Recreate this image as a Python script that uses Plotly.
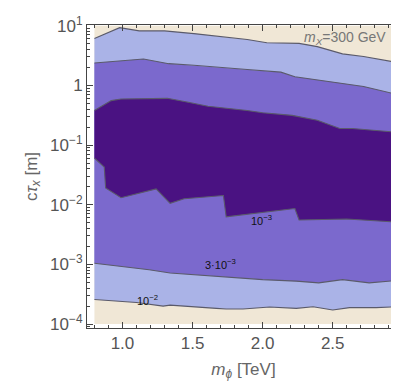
import numpy as np
import plotly.graph_objects as go

# data extent of the scan
m_range = [0.8, 2.95]          # m_phi [TeV]
ctau_range = [1e-4, 10.0]      # c tau [m]

# contour 1e-2 (upper branch)
up_1e2_m = [0.80, 0.98, 1.12, 1.30, 1.51, 1.80, 1.89, 2.03, 2.26, 2.39, 2.57, 2.72, 2.95]
up_1e2_logy = [0.786, 0.967, 0.913, 0.913, 0.868, 0.786, 0.770, 0.715, 0.704, 0.650, 0.528, 0.485, 0.387]

# contour 1e-2 (lower branch)
lo_1e2_m = [0.80, 1.10, 1.29, 1.34, 1.67, 1.74, 1.86, 2.05, 2.24, 2.36, 2.50, 2.62, 2.81, 2.95]
lo_1e2_logy = [-3.589, -3.638, -3.699, -3.683, -3.737, -3.748, -3.748, -3.715, -3.737, -3.709, -3.765, -3.725, -3.725, -3.709]

# contour 3e-3 (upper branch)
up_3e3_m = [0.80, 1.15, 1.33, 1.51, 1.89, 2.03, 2.13, 2.23, 2.54, 2.72, 2.95]
up_3e3_logy = [0.375, 0.441, 0.364, 0.337, 0.265, 0.238, 0.222, 0.145, 0.046, -0.020, -0.146]

# contour 3e-3 (lower branch)
lo_3e3_m = [0.80, 0.96, 1.19, 1.34, 1.67, 1.86, 2.00, 2.24, 2.40, 2.57, 2.76, 2.95]
lo_3e3_logy = [-2.980, -3.025, -3.090, -3.145, -3.199, -3.232, -3.255, -3.281, -3.309, -3.255, -3.309, -3.271]

# contour 1e-3 (closed island), top and bottom edges
up_1e3_m = [0.80, 0.92, 0.99, 1.32, 1.47, 1.61, 1.89, 2.00, 2.21, 2.39, 2.55, 2.64, 2.95]
up_1e3_logy = [-0.420, -0.255, -0.229, -0.217, -0.283, -0.349, -0.420, -0.459, -0.502, -0.584, -0.722, -0.722, -0.785]
lo_1e3_m = [0.80, 0.87, 0.88, 0.99, 1.24, 1.34, 1.44, 1.72, 1.74, 1.94, 2.23, 2.26, 2.60, 2.95]
lo_1e3_logy = [-1.220, -1.368, -1.719, -1.883, -1.735, -1.977, -1.900, -1.845, -2.202, -2.146, -2.064, -2.257, -2.240, -2.289]

# contour labels
lab_text = ["10<sup>−3</sup>", "3·10<sup>−3</sup>", "10<sup>−2</sup>"]
lab_m = [1.99, 1.70, 1.18]
lab_logy = [-2.26, -3.0, -3.605]

beige = "#F0E7D6"
light = "#AAB3E7"
mid = "#7B69CD"
dark = "#4A1282"
line_col = "#5a5a6a"


def band(m_lo, y_lo, m_hi, y_hi):
    xs = list(m_lo) + list(m_hi)[::-1]
    ys = list(10 ** np.array(y_lo)) + list(10 ** np.array(y_hi))[::-1]
    return xs, ys


fig = go.Figure()

# background region (>1e-2)
fig.add_trace(go.Scatter(
    x=[m_range[0], m_range[1], m_range[1], m_range[0]],
    y=[ctau_range[0], ctau_range[0], ctau_range[1], ctau_range[1]],
    fill="toself", fillcolor=beige, line=dict(width=0), mode="lines",
    hoverinfo="skip"))

for (mlo, ylo, mhi, yhi, col) in [
        (lo_1e2_m, lo_1e2_logy, up_1e2_m, up_1e2_logy, light),
        (lo_3e3_m, lo_3e3_logy, up_3e3_m, up_3e3_logy, mid),
        (lo_1e3_m, lo_1e3_logy, up_1e3_m, up_1e3_logy, dark)]:
    xs, ys = band(mlo, ylo, mhi, yhi)
    fig.add_trace(go.Scatter(x=xs, y=ys, fill="toself", fillcolor=col,
                             line=dict(width=0), mode="lines", hoverinfo="skip"))

# contour lines
for m, ly in [(up_1e2_m, up_1e2_logy), (lo_1e2_m, lo_1e2_logy),
              (up_3e3_m, up_3e3_logy), (lo_3e3_m, lo_3e3_logy),
              (up_1e3_m, up_1e3_logy), (lo_1e3_m, lo_1e3_logy)]:
    fig.add_trace(go.Scatter(x=m, y=10 ** np.array(ly), mode="lines",
                             line=dict(color=line_col, width=1.1), hoverinfo="skip"))

for t, m, ly in zip(lab_text, lab_m, lab_logy):
    fig.add_annotation(x=m, y=ly, text=t, showarrow=False,
                       font=dict(size=11, color="#111", family="Liberation Sans"))

fig.add_annotation(x=2.59, y=0.79, text="<i>m</i><sub><i>X</i></sub>=300 GeV",
                   showarrow=False, font=dict(size=14, color="#777", family="Liberation Sans"))

# log minor ticks
minor_y = [k * 10.0 ** d for d in range(-5, 2) for k in range(2, 10)]
major_y = [1e-4, 1e-3, 1e-2, 1e-1, 1, 10]
major_y_txt = ["10<sup>−4</sup>", "10<sup>−3</sup>", "10<sup>−2</sup>",
               "10<sup>−1</sup>", "1", "10<sup>1</sup>"]

axis_common = dict(showgrid=False, zeroline=False, ticks="inside", mirror="allticks",
                   showline=True, linecolor="#444", linewidth=1, tickcolor="#444",
                   ticklen=6, tickfont=dict(size=17, color="#555", family="Liberation Sans"))

fig.update_layout(
    width=399, height=388,
    margin=dict(l=79, r=6, t=12, b=68),
    paper_bgcolor="white", plot_bgcolor="white",
    showlegend=False,
    xaxis=dict(range=[0.747, 2.98], tickvals=[1.0, 1.5, 2.0, 2.5],
               ticktext=["1.0", "1.5", "2.0", "2.5"],
               minor=dict(ticks="inside", ticklen=3, tickcolor="#444", dtick=0.1, tick0=0.7),
               title=dict(text="<i>m</i><sub><i>ϕ</i></sub> [TeV]", standoff=10,
                          font=dict(size=17, color="#666", family="Liberation Sans")),
               **axis_common),
    yaxis=dict(type="log", range=[-4.066, 1.012], tickvals=major_y, ticktext=major_y_txt,
               minor=dict(ticks="inside", ticklen=3, tickcolor="#444", tickvals=minor_y),
               title=dict(text="c<i>τ</i><sub><i>x</i></sub> [m]", standoff=8,
                          font=dict(size=17, color="#666", family="Liberation Sans")),
               **axis_common),
)

fig.write_html("out.html")
